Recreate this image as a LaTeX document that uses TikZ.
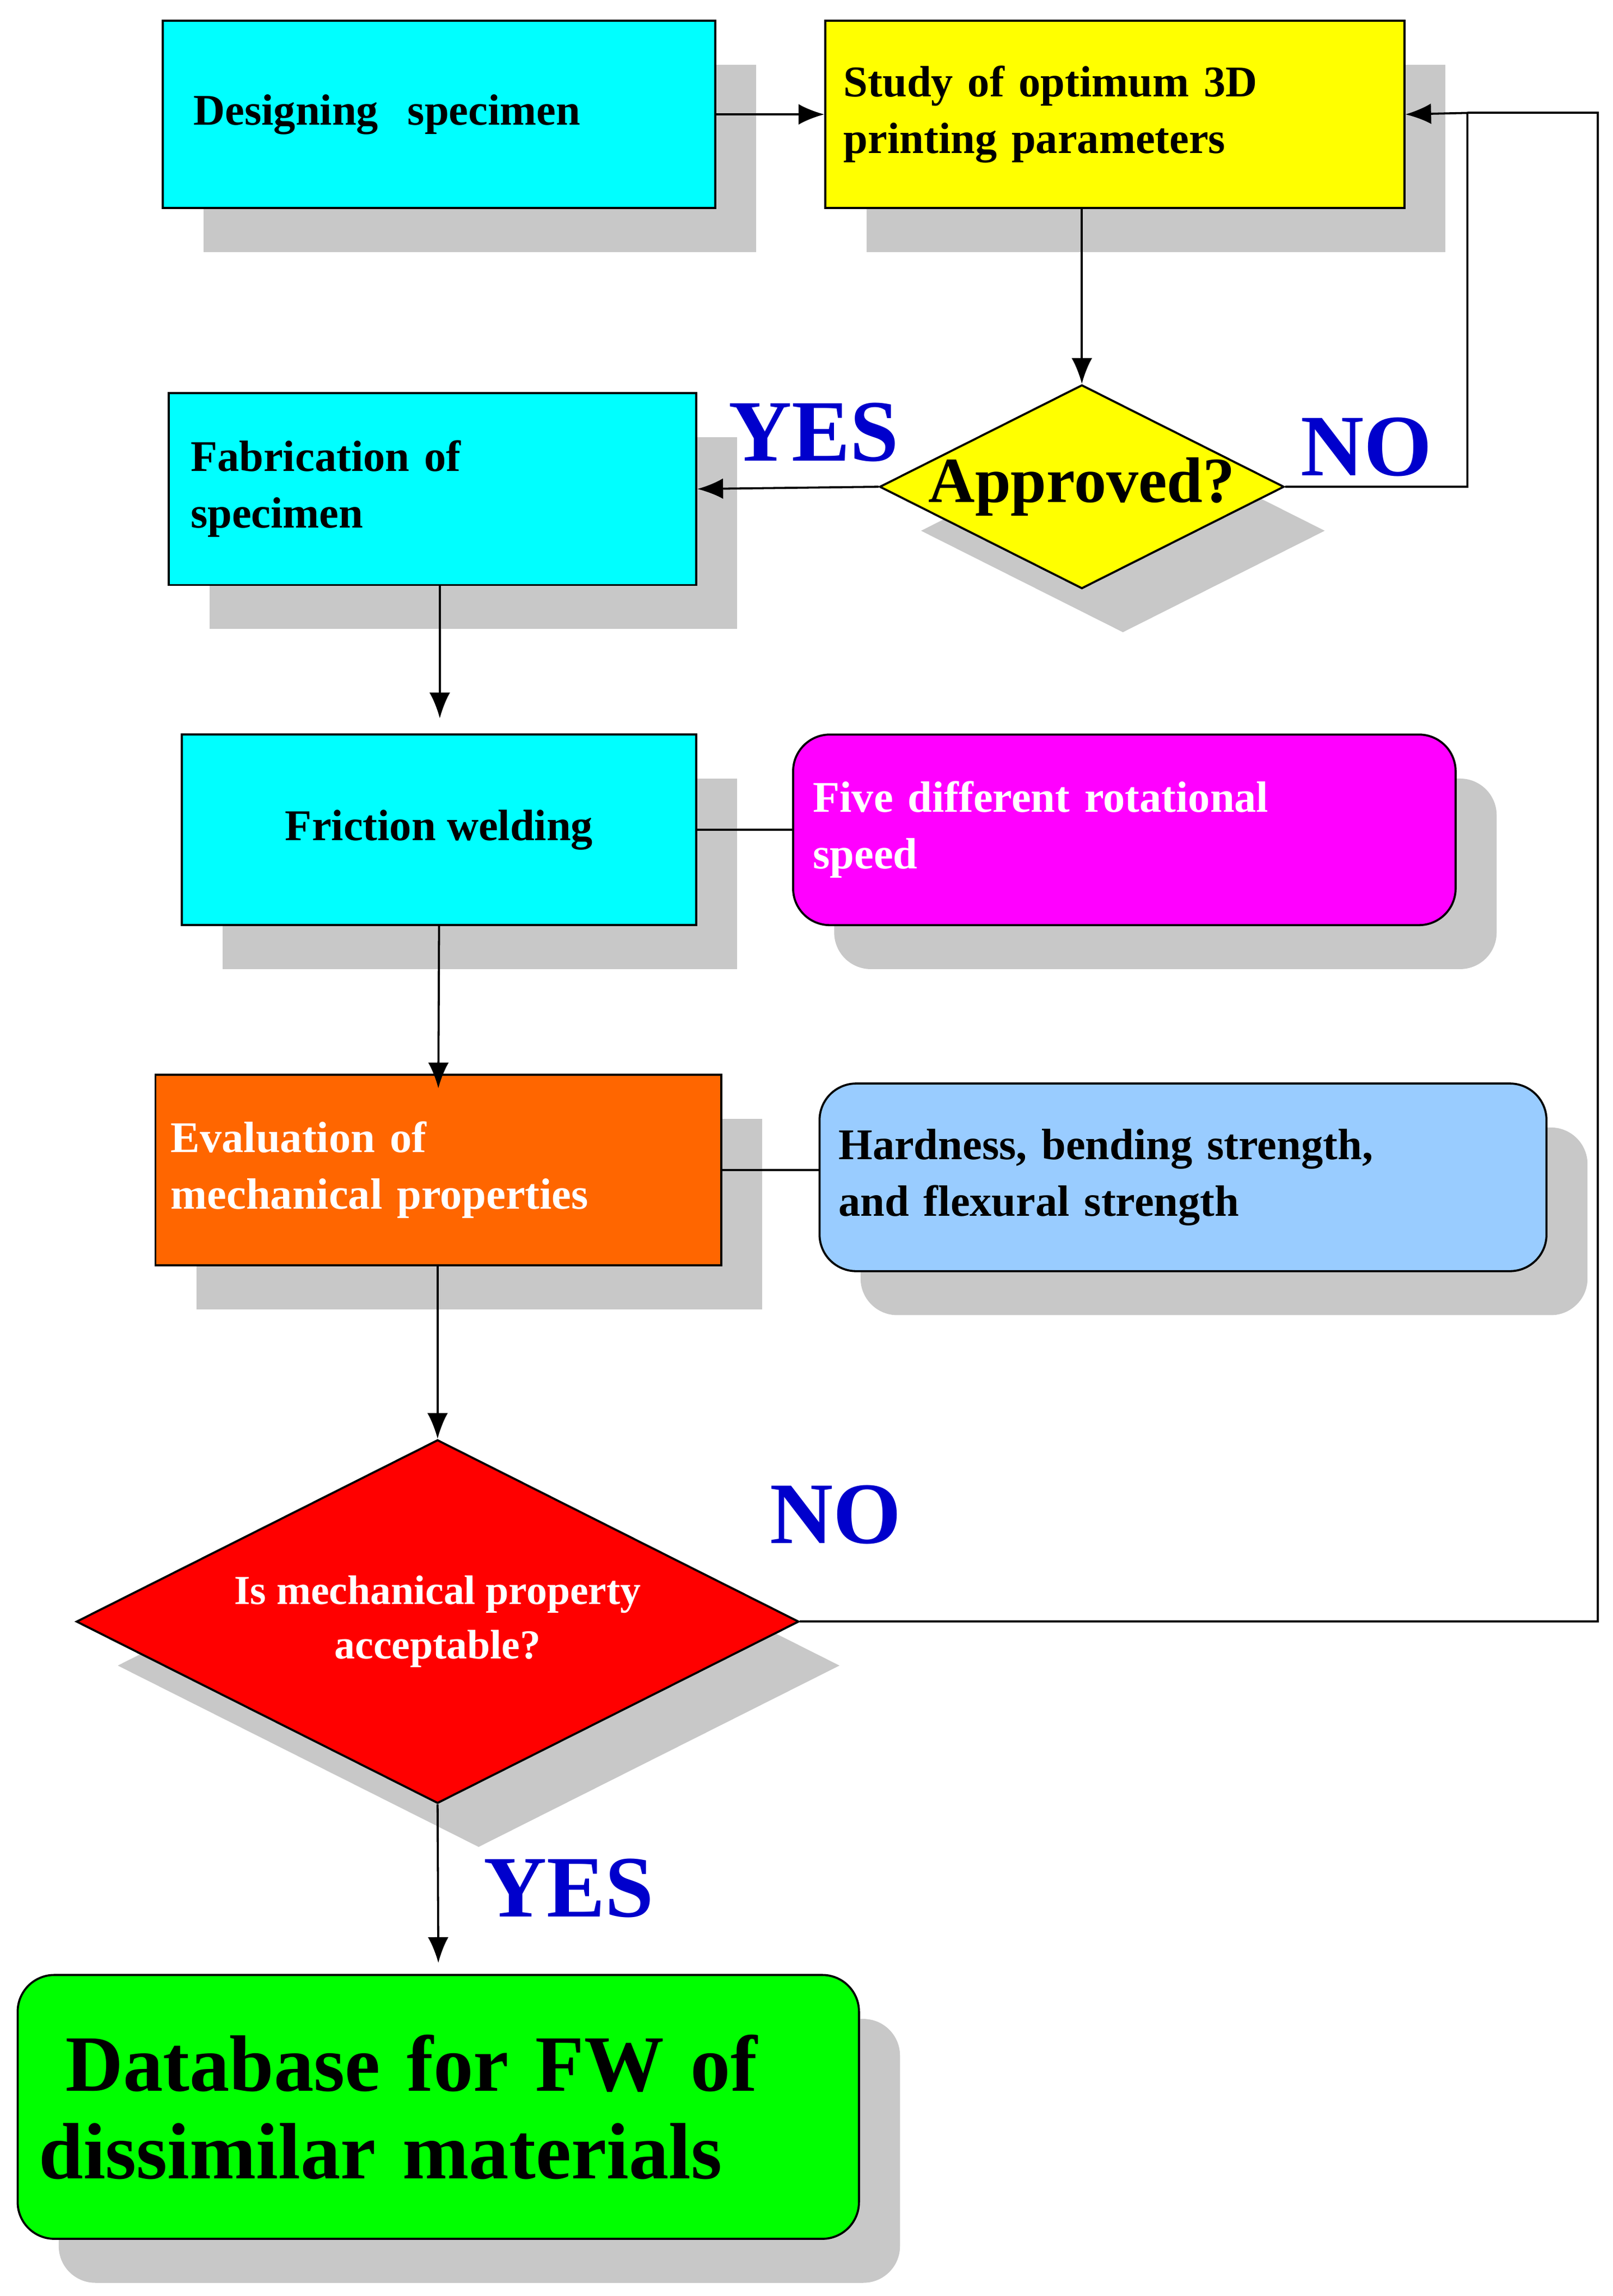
\documentclass[tikz,border=0pt]{standalone}
\usepackage{fontspec}
\setmainfont{Liberation Serif}
\usetikzlibrary{shapes.geometric,shadows,arrows.meta}
\definecolor{cCyan}{RGB}{0,255,255}
\definecolor{cYel}{RGB}{255,255,0}
\definecolor{cMag}{RGB}{255,0,255}
\definecolor{cOra}{RGB}{255,102,0}
\definecolor{cLb}{RGB}{153,204,255}
\definecolor{cRed}{RGB}{255,0,0}
\definecolor{cGrn}{RGB}{0,255,0}
\definecolor{cBlu}{RGB}{0,0,204}
\definecolor{cSh}{RGB}{200,200,200}
\begin{document}
\begin{tikzpicture}[x=0.02cm,y=-0.02cm,
  sh/.style={drop shadow={shadow xshift=0.56cm,shadow yshift=-0.6cm,fill=cSh,opacity=1}},
  box/.style={draw=black,line width=0.8pt,sh,inner sep=0pt,font=\bfseries\fontsize{17}{22}\selectfont,align=left},
  rbox/.style={box,rounded corners=0.5cm},
  dia/.style={diamond,draw=black,line width=0.8pt,sh,inner sep=0pt},
  txt/.style={inner sep=0pt,align=center},
  arr/.style={-{Latex[length=10pt,width=8pt]},line width=0.8pt},
  ln/.style={line width=0.8pt},
  lab/.style={text=cBlu,font=\bfseries\fontsize{34}{34}\selectfont}]
\useasboundingbox (0,0) rectangle (1100,1566);
\node[box,fill=cCyan,minimum width=7.54cm,minimum height=2.56cm,text width=6.7cm] (des) at (299.5,78) {Designing\ \ specimen};
\node[box,fill=cYel,minimum width=7.9cm,minimum height=2.56cm,text width=7.4cm] (stu) at (760.5,78) {Study of optimum 3D\\printing parameters};
\node[dia,fill=cYel,minimum width=5.52cm,minimum height=2.78cm] (app) at (738,332) {};
\node[txt,font=\bfseries\fontsize{25}{25}\selectfont] (appt) at (738,332) {Approved?};
\node[box,fill=cCyan,minimum width=7.2cm,minimum height=2.62cm,text width=6.6cm] (fab) at (295,333.5) {Fabrication of\\specimen};
\node[box,fill=cCyan,minimum width=7.02cm,minimum height=2.6cm,align=center] (fri) at (299.5,566) {Friction welding};
\node[rbox,fill=cMag,text=white,minimum width=9.04cm,minimum height=2.6cm,text width=8.5cm] (five) at (767,566) {Five different rotational\\speed};
\node[box,fill=cOra,text=white,minimum width=7.72cm,minimum height=2.6cm,text width=7.3cm] (eva) at (299,798) {Evaluation of\\mechanical properties};
\node[rbox,fill=cLb,minimum width=9.92cm,minimum height=2.56cm,text width=9.4cm] (har) at (807,803) {Hardness, bending strength,\\and flexural strength};
\node[dia,fill=cRed,minimum width=9.86cm,minimum height=4.96cm] (acc) at (298.5,1106) {};
\node[txt,text=white,font=\bfseries\fontsize{16}{21}\selectfont] (acct) at (298.5,1106) {Is mechanical property\\acceptable?};
\node[rbox,fill=cGrn,minimum width=11.48cm,minimum height=3.6cm,text width=10.9cm,font=\bfseries\fontsize{31}{34}\selectfont] (db) at (299,1437) {\ Database for FW of\\dissimilar materials};
\node[lab] (y1) at (555,295) {YES};
\node[lab] (n1) at (932,305) {NO};
\node[lab] (n2) at (570,1033) {NO};
\node[lab] (y2) at (388,1288) {YES};
\coordinate (c1) at (1001,332);
\coordinate (c2) at (1001,77);
\coordinate (c3) at (1090,1106);
\coordinate (c4) at (1090,77);
\coordinate (f1) at (300,399);
\coordinate (f2) at (300,490);
\coordinate (s1) at (738,142);
\coordinate (d1) at (298.5,863);
\draw[arr] (des.east) -- (stu.west);
\draw[arr] (s1) -- (app.north);
\draw[arr] (app.west) -- (fab.east);
\draw[arr] (app.east) -- (c1) -- (c2) -- (stu.east);
\draw[arr] (f1) -- (f2);
\draw[arr] (fri.south) -- ([yshift=-0.2cm]eva.north);
\draw[arr] (d1) -- (acc.north);
\draw[ln] (fri.east) -- (fri.east -| five.west);
\draw[ln] (eva.east) -- (eva.east -| har.west);
\draw[ln] (acc.east) -- (c3) -- (c4) -- (c2);
\draw[arr] (acc.south) -- ([yshift=0.15cm]db.north);
\end{tikzpicture}
\end{document}
